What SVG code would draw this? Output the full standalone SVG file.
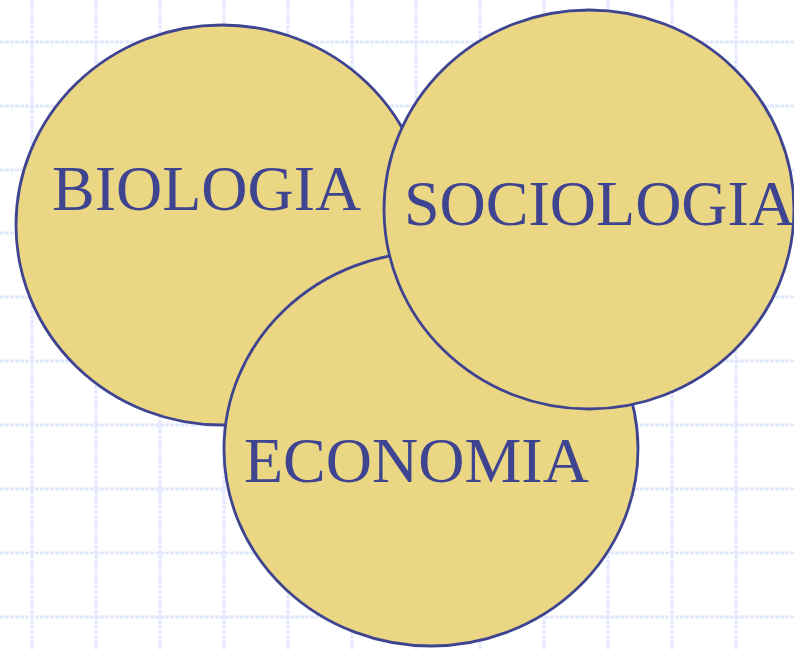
<svg xmlns="http://www.w3.org/2000/svg" width="794" height="649" viewBox="0 0 794 649">
<style>
.grid line{stroke:#e2e8fc;stroke-width:3;stroke-dasharray:4 1}
.c{fill:#ebd683;stroke:#3f4491;stroke-width:2.8}
.t{font-family:"Liberation Serif","Times New Roman",serif;font-size:64px;fill:#3f4491}
</style>
<rect width="794" height="649" fill="#ffffff"/>
<g class="grid">
<line x1="32" y1="0" x2="32" y2="649"/>
<line x1="96" y1="0" x2="96" y2="649"/>
<line x1="160" y1="0" x2="160" y2="649"/>
<line x1="224" y1="0" x2="224" y2="649"/>
<line x1="288" y1="0" x2="288" y2="649"/>
<line x1="352" y1="0" x2="352" y2="649"/>
<line x1="416" y1="0" x2="416" y2="649"/>
<line x1="480" y1="0" x2="480" y2="649"/>
<line x1="544" y1="0" x2="544" y2="649"/>
<line x1="608" y1="0" x2="608" y2="649"/>
<line x1="672" y1="0" x2="672" y2="649"/>
<line x1="736" y1="0" x2="736" y2="649"/>
<line x1="0" y1="42" x2="794" y2="42"/>
<line x1="0" y1="106" x2="794" y2="106"/>
<line x1="0" y1="170" x2="794" y2="170"/>
<line x1="0" y1="233" x2="794" y2="233"/>
<line x1="0" y1="297" x2="794" y2="297"/>
<line x1="0" y1="361" x2="794" y2="361"/>
<line x1="0" y1="425" x2="794" y2="425"/>
<line x1="0" y1="489" x2="794" y2="489"/>
<line x1="0" y1="553" x2="794" y2="553"/>
<line x1="0" y1="617" x2="794" y2="617"/>
</g>
<g id="connectors"></g>
<g id="biologia">
<ellipse class="c" cx="222" cy="225" rx="206" ry="200"/>
<text class="t" x="52" y="210">BIOLOGIA</text>
</g>
<g id="economia">
<ellipse class="c" cx="431" cy="449" rx="207" ry="197"/>
<text class="t" x="244" y="482">ECONOMIA</text>
</g>
<g id="sociologia">
<ellipse class="c" cx="589" cy="209.5" rx="205" ry="199.5"/>
<text class="t" x="404" y="225">SOCIOLOGIA</text>
</g>
</svg>
